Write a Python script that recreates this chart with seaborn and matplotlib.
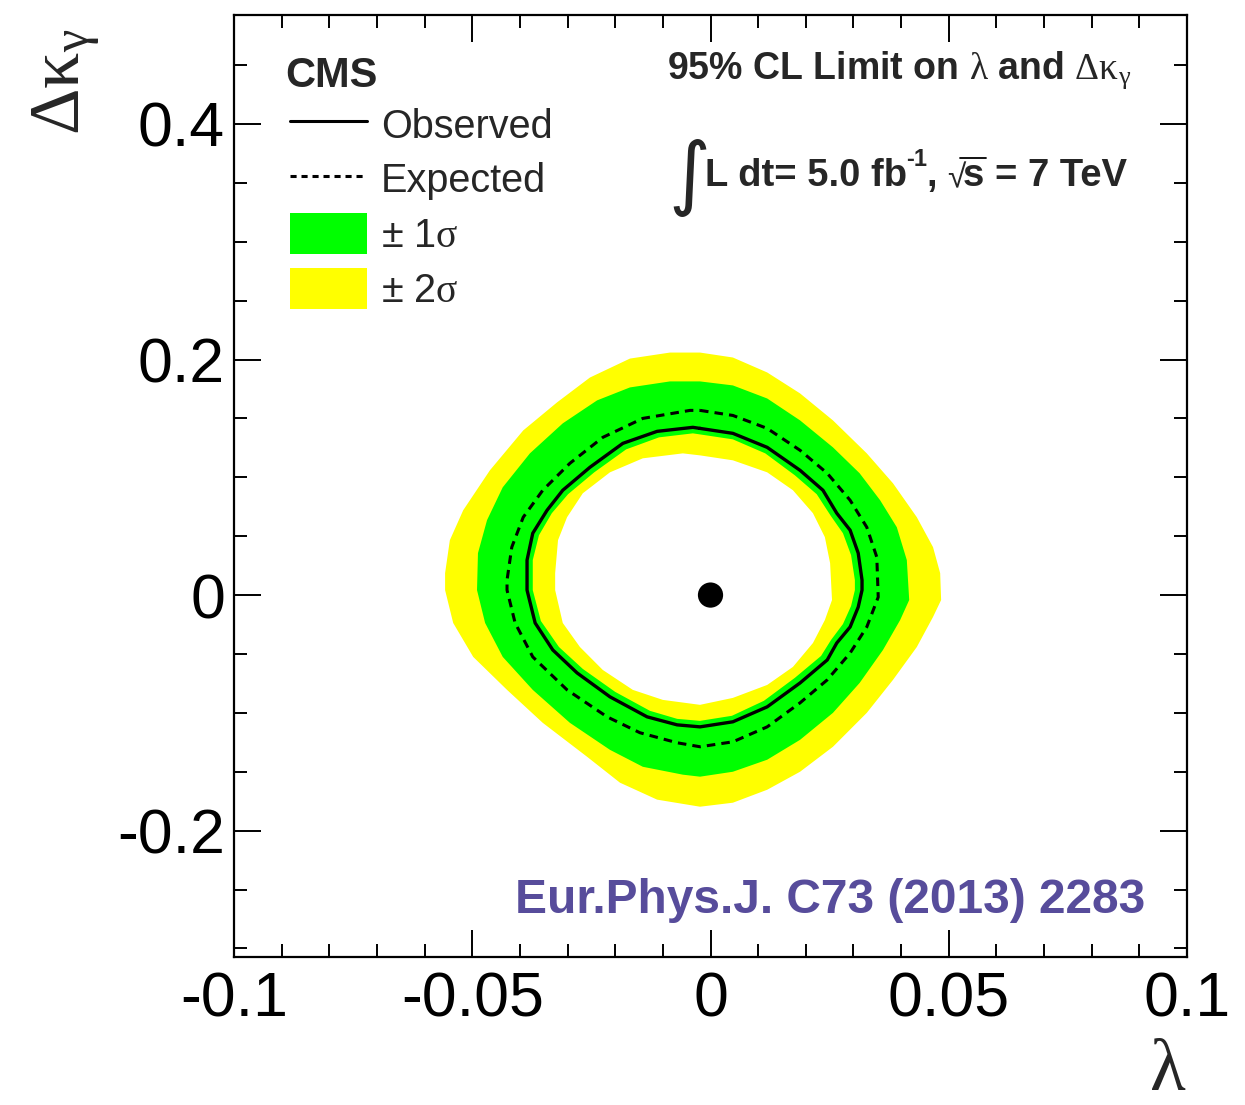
import numpy as np
import matplotlib
matplotlib.use("Agg")
import matplotlib.pyplot as plt
import seaborn as sns
from matplotlib.lines import Line2D
from matplotlib.patches import Patch

# ---------------- data ----------------
# outer edge of the +-2 sigma band
y2out_lam = [-0.0022, 0.0047, 0.0119, 0.0188, 0.0257, 0.0328, 0.0383, 0.0433, 0.0467, 0.0482,
             0.0484, 0.0467, 0.0433, 0.0383, 0.0328, 0.0257, 0.0188, 0.0119, 0.0047, -0.0022,
             -0.0112, -0.0190, -0.0259, -0.0352, -0.0427, -0.0498, -0.0540, -0.0557, -0.0557,
             -0.0547, -0.0519, -0.0463, -0.0393, -0.0322, -0.0253, -0.0169, -0.0085]
y2out_dk = [0.2059, 0.2017, 0.1890, 0.1712, 0.1483, 0.1203, 0.0949, 0.0661, 0.0407, 0.0186,
            -0.0042, -0.0186, -0.0441, -0.0720, -0.1000, -0.1288, -0.1500, -0.1653, -0.1763, -0.1797,
            -0.1737, -0.1593, -0.1373, -0.1085, -0.0805, -0.0525, -0.0237, 0.0042, 0.0186,
            0.0466, 0.0720, 0.1059, 0.1398, 0.1636, 0.1847, 0.2008, 0.2059]

# outer edge of the +-1 sigma band
g1out_lam = [-0.0022, 0.0047, 0.0119, 0.0188, 0.0257, 0.0313, 0.0356, 0.0391, 0.0412, 0.0417,
             0.0398, 0.0362, 0.0313, 0.0257, 0.0188, 0.0119, 0.0047, -0.0022, -0.0058, -0.0142,
             -0.0211, -0.0295, -0.0373, -0.0436, -0.0473, -0.0490, -0.0488, -0.0469, -0.0436,
             -0.0379, -0.0310, -0.0238, -0.0169, -0.0085]
g1out_dk = [0.1814, 0.1780, 0.1669, 0.1483, 0.1254, 0.1034, 0.0805, 0.0576, 0.0297, -0.0042,
            -0.0212, -0.0466, -0.0746, -0.1000, -0.1229, -0.1398, -0.1500, -0.1542, -0.1525, -0.1458,
            -0.1314, -0.1085, -0.0805, -0.0525, -0.0237, 0.0042, 0.0356, 0.0636, 0.0915,
            0.1203, 0.1458, 0.1653, 0.1763, 0.1814]

# inner edge of the +-1 sigma band
g1in_lam = [-0.0022, 0.0047, 0.0115, 0.0177, 0.0223, 0.0253, 0.0278, 0.0295, 0.0303, 0.0303,
            0.0295, 0.0278, 0.0253, 0.0232, 0.0177, 0.0112, 0.0045, -0.0022, -0.0070, -0.0127,
            -0.0200, -0.0268, -0.0318, -0.0356, -0.0373, -0.0373, -0.0360, -0.0333, -0.0299,
            -0.0244, -0.0177, -0.0108, -0.0037]
g1in_dk = [0.1364, 0.1322, 0.1203, 0.1017, 0.0856, 0.0669, 0.0525, 0.0339, 0.0127, 0.0042,
           -0.0093, -0.0246, -0.0381, -0.0517, -0.0703, -0.0898, -0.1025, -0.1068, -0.1051, -0.0983,
           -0.0822, -0.0627, -0.0441, -0.0220, 0.0042, 0.0297, 0.0508, 0.0695, 0.0856,
           0.1042, 0.1237, 0.1339, 0.1373]

# inner edge of the +-2 sigma band
y2in_lam = [-0.0022, 0.0047, 0.0119, 0.0173, 0.0215, 0.0240, 0.0251, 0.0255, 0.0240, 0.0215,
            0.0173, 0.0119, 0.0047, -0.0022, -0.0100, -0.0163, -0.0226, -0.0274, -0.0310, -0.0326,
            -0.0326, -0.0320, -0.0301, -0.0268, -0.0211, -0.0142, -0.0058]
y2in_dk = [0.1186, 0.1144, 0.1042, 0.0890, 0.0695, 0.0492, 0.0271, -0.0042, -0.0212, -0.0407,
           -0.0610, -0.0763, -0.0873, -0.0932, -0.0890, -0.0805, -0.0636, -0.0441, -0.0237, 0.0042,
           0.0186, 0.0466, 0.0661, 0.0864, 0.1042, 0.1161, 0.1203]

# expected 95% CL contour
exp_lam = [-0.0022, 0.0047, 0.0119, 0.0188, 0.0245, 0.0293, 0.0328, 0.0349, 0.0352, 0.0328,
           0.0293, 0.0245, 0.0188, 0.0119, 0.0047, -0.0022, -0.0070, -0.0148, -0.0217, -0.0301,
           -0.0373, -0.0410, -0.0427, -0.0427, -0.0417, -0.0393, -0.0352, -0.0295, -0.0226,
           -0.0142, -0.0043]
exp_dk = [0.1568, 0.1525, 0.1415, 0.1229, 0.1034, 0.0805, 0.0576, 0.0322, -0.0017, -0.0271,
          -0.0492, -0.0720, -0.0915, -0.1119, -0.1246, -0.1288, -0.1254, -0.1169, -0.1034, -0.0805,
          -0.0525, -0.0237, 0.0042, 0.0127, 0.0407, 0.0661, 0.0890, 0.1119, 0.1339,
          0.1500, 0.1568]

# observed 95% CL contour
obs_lam = [-0.0022, 0.0047, 0.0119, 0.0188, 0.0236, 0.0265, 0.0293, 0.0310, 0.0318, 0.0318,
           0.0310, 0.0293, 0.0265, 0.0245, 0.0188, 0.0119, 0.0047, -0.0022, -0.0070, -0.0133,
           -0.0211, -0.0280, -0.0331, -0.0368, -0.0385, -0.0385, -0.0373, -0.0343, -0.0310,
           -0.0253, -0.0184, -0.0112, -0.0037]
obs_dk = [0.1415, 0.1373, 0.1254, 0.1059, 0.0890, 0.0695, 0.0551, 0.0356, 0.0127, 0.0042,
          -0.0102, -0.0271, -0.0407, -0.0551, -0.0746, -0.0949, -0.1076, -0.1119, -0.1102, -0.1034,
          -0.0864, -0.0661, -0.0466, -0.0237, 0.0042, 0.0297, 0.0525, 0.0720, 0.0890,
          0.1085, 0.1288, 0.1390, 0.1424]

# Standard Model point
sm_lam = [0.0]
sm_dk = [0.0]

xtick_major = [-0.1, -0.05, 0.0, 0.05, 0.1]
xtick_labels = ["-0.1", "-0.05", "0", "0.05", "0.1"]
ytick_major = [-0.2, 0.0, 0.2, 0.4]
ytick_labels = ["-0.2", "0", "0.2", "0.4"]
legend_labels = ["Observed", "Expected", "± 1$\\mathrm{\\sigma}$", "± 2$\\mathrm{\\sigma}$"]

# ---------------- style ----------------
sns.set_theme(style="ticks")
plt.rcParams["font.family"] = ["Liberation Sans", "DejaVu Sans"]
plt.rcParams["mathtext.fontset"] = "custom"
plt.rcParams["mathtext.rm"] = "Liberation Serif"
plt.rcParams["mathtext.it"] = "Liberation Serif:italic"
plt.rcParams["mathtext.bf"] = "Liberation Sans:bold"
plt.rcParams["mathtext.sf"] = "Liberation Sans"

YELLOW = "#ffff00"
GREEN = "#00ff00"

W, H = 1245, 1105
fig = plt.figure(figsize=(W / 100, H / 100), dpi=100)
ax = fig.add_axes([234 / W, 1 - 957 / H, 953 / W, 942 / H])


def closed(a):
    return np.append(np.asarray(a, float), a[0])


ax.fill(y2out_lam, y2out_dk, color=YELLOW, lw=0, zorder=1)
ax.fill(g1out_lam, g1out_dk, color=GREEN, lw=0, zorder=2)
ax.fill(g1in_lam, g1in_dk, color=YELLOW, lw=0, zorder=3)
ax.fill(y2in_lam, y2in_dk, color="white", lw=0, zorder=4)

sns.lineplot(x=closed(exp_lam), y=closed(exp_dk), sort=False, estimator=None, ax=ax,
             color="black", lw=2.2, dashes=False, zorder=5, legend=False)
ax.lines[-1].set_dashes((2.8, 2.0))
sns.lineplot(x=closed(obs_lam), y=closed(obs_dk), sort=False, estimator=None, ax=ax,
             color="black", lw=2.4, zorder=6, legend=False)
sns.scatterplot(x=sm_lam, y=sm_dk, ax=ax, color="black", s=330, edgecolor="none", zorder=7,
                legend=False)

ax.set_xlim(-0.1, 0.1)
ax.set_ylim(-0.3073, 0.4925)
ax.set_xticks(xtick_major, labels=xtick_labels)
ax.set_yticks(ytick_major, labels=ytick_labels)
ax.set_xticks(np.arange(-0.1, 0.1001, 0.01), minor=True)
ax.set_yticks(np.arange(-0.3, 0.4926, 0.05), minor=True)
ax.tick_params(which="both", direction="in", top=True, right=True, width=1.4, color="black",
               labelsize=45, labelcolor="black")
ax.tick_params(axis="y", which="both", pad=6.5)
ax.tick_params(axis="x", which="both", pad=9.5)
ax.tick_params(which="major", length=19.5)
ax.tick_params(which="minor", length=9.5)
for sp in ax.spines.values():
    sp.set_linewidth(1.6)
    sp.set_color("black")
ax.set_xlabel("")
ax.set_ylabel("")

# legend
handles = [Line2D([], [], color="black", lw=2.2),
           Line2D([], [], color="black", lw=2.2, dashes=(2.0, 1.6)),
           Patch(facecolor=GREEN, edgecolor="none"),
           Patch(facecolor=YELLOW, edgecolor="none")]
ax.legend(handles, legend_labels, loc="upper left",
          bbox_to_anchor=((290 - 234) / 953, (957 - 104) / 942),
          frameon=False, fontsize=28.5, handlelength=1.94, handleheight=1.2,
          handletextpad=0.36, labelspacing=0.33, borderpad=0, borderaxespad=0)

# texts
def fx(px):
    return px / W


def fy(py):
    return 1 - py / H


fig.text(fx(285), fy(87), "CMS", fontsize=30, fontweight="bold", va="baseline", ha="left")
fig.text(fx(667), fy(79),
         "95% CL Limit on $\\mathrm{\\lambda}$ and $\\mathrm{\\Delta\\kappa_{\\gamma}}$",
         fontsize=27, fontweight="bold", va="baseline", ha="left")
# luminosity / energy line, built from pieces as in the original ROOT label
fig.text(fx(668), fy(178), "∫", fontsize=58, family="DejaVu Sans", va="center", ha="left")
fig.text(fx(705), fy(186), "L dt= 5.0 fb", fontsize=27.5, fontweight="bold",
         va="baseline", ha="left")
fig.text(fx(906), fy(166), "-1", fontsize=17, fontweight="bold", va="baseline", ha="left")
fig.text(fx(926), fy(186), ",", fontsize=27.5, fontweight="bold", va="baseline", ha="left")
fig.text(fx(947), fy(187), "√", fontsize=24, va="baseline", ha="left")
fig.text(fx(963), fy(186), "s", fontsize=27.5, fontweight="bold", va="baseline", ha="left")
fig.add_artist(Line2D([fx(960), fx(986)], [fy(158), fy(158)], color="black", lw=1.3))
fig.text(fx(995), fy(186), "= 7 TeV", fontsize=27.5, fontweight="bold",
         va="baseline", ha="left")

fig.text(fx(515), fy(913), "Eur.Phys.J. C73 (2013) 2283", fontsize=34.5, fontweight="bold",
         color="#574c9b", va="baseline", ha="left")
fig.text(fx(1168), fy(1105), "$\\mathrm{\\lambda}$", fontsize=53, ha="center", va="bottom")
fig.text(fx(67), fy(28), "$\\mathrm{\\Delta\\kappa_{\\gamma}}$", fontsize=52, rotation=90,
         ha="center", va="top")

fig.savefig("out.png", dpi=100)
